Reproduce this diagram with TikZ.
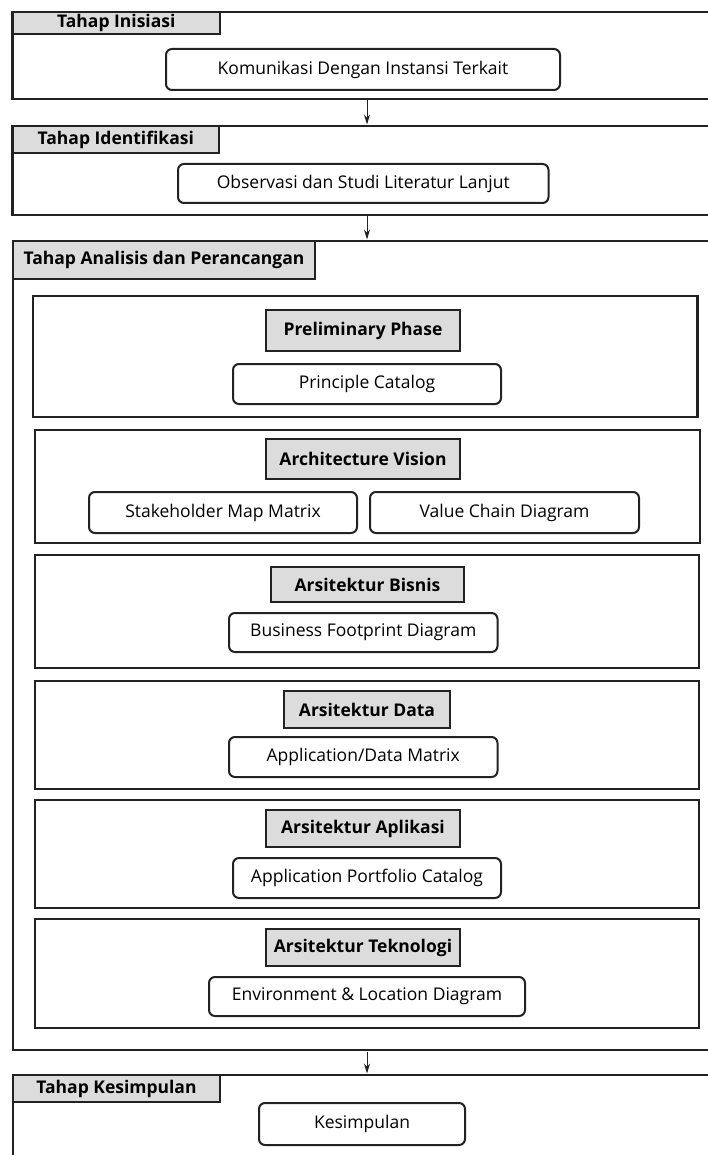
\documentclass[tikz,border=0pt]{standalone}
\usepackage{fontspec}
\setmainfont{Open Sans}
\usepackage{xcolor}
\usetikzlibrary{arrows.meta,fit,positioning}
\definecolor{ink}{HTML}{222222}
\definecolor{tabgray}{HTML}{DCDCDC}

\begin{document}
\begin{tikzpicture}[x=1pt,y=-1pt,>={Stealth[length=10pt,width=6pt]},
  stage/.style={draw=ink,line width=2.5pt,inner sep=0pt,outer sep=0pt},
  phase/.style={draw=ink,line width=2.3pt,inner sep=0pt,outer sep=0pt},
  tab/.style={draw=ink,fill=tabgray,line width=2.2pt,inner sep=0pt,
    font=\fontsize{17.5}{20}\selectfont\bfseries},
  head/.style={draw=ink,fill=tabgray,line width=2.3pt,inner sep=0pt,
    font=\fontsize{17.5}{20}\selectfont\bfseries},
  item/.style={draw=ink,rounded corners=6pt,line width=2pt,inner sep=0pt,
    font=\fontsize{17.5}{20}\selectfont},
  flow/.style={->,draw=ink,line width=1pt,shorten <=1.5pt,shorten >=1.5pt}]
\useasboundingbox (0,0) rectangle (708,1155);
\clip (0,0) rectangle (708,1155);

% tahap inisiasi
\node[stage,fit={(12.6,12) (721.4,99)}] (inisiasi) {};
\node[tab,minimum width=207.4pt,minimum height=22pt] at (116.3,23) (tabinisiasi) {Tahap Inisiasi};
\node[item,minimum width=394pt,minimum height=41pt] at (363,69.5) (komunikasi)
  {Komunikasi Dengan Instansi Terkait};

% tahap identifikasi
\node[stage,fit={(12.6,126) (721.4,215)}] (identifikasi) {};
\node[tab,minimum width=206.4pt,minimum height=27pt] at (115.8,139.5) (tabidentifikasi) {Tahap Identifikasi};
\node[item,minimum width=370.5pt,minimum height=39pt] at (363.25,183.5) (observasi)
  {Observasi dan Studi Literatur Lanjut};

% tahap analisis dan perancangan
\node[stage,fit={(13,241) (721,1050)}] (analisis) {};
\node[tab,minimum width=302pt,minimum height=38pt] at (164,260) (tabanalisis) {Tahap Analisis dan Perancangan};

\node[phase,fit={(33,296) (697.5,417)}] (preliminary) {};
\node[head,minimum width=194pt,minimum height=41pt] at (363,330.5) (hpreliminary) {Preliminary Phase};
\node[item,minimum width=268pt,minimum height=40pt] at (367,384) (principle) {Principle Catalog};

\node[phase,fit={(35,430) (700,543)}] (vision) {};
\node[head,minimum width=194pt,minimum height=40pt] at (363,459) (hvision) {Architecture Vision};
\node[item,minimum width=268pt,minimum height=41pt] at (223,512.5) (stakeholder) {Stakeholder Map Matrix};
\node[item,minimum width=269pt,minimum height=41pt] at (504.5,512.5) (valuechain) {Value Chain Diagram};

\node[phase,fit={(35,555) (699,668)}] (bisnis) {};
\node[head,minimum width=193pt,minimum height=35pt] at (367.5,584.5) (hbisnis) {Arsitektur Bisnis};
\node[item,minimum width=268.5pt,minimum height=39pt] at (363.25,632.5) (footprint) {Business Footprint Diagram};

\node[phase,fit={(35,681) (699,789)}] (data) {};
\node[head,minimum width=166pt,minimum height=37pt] at (367,709.5) (hdata) {Arsitektur Data};
\node[item,minimum width=268.5pt,minimum height=40pt] at (363.25,757) (appdata) {Application/Data Matrix};

\node[phase,fit={(35,800) (699,908)}] (aplikasi) {};
\node[head,minimum width=194pt,minimum height=37pt] at (363,828.5) (haplikasi) {Arsitektur Aplikasi};
\node[item,minimum width=268pt,minimum height=40pt] at (367,878) (portfolio) {Application Portfolio Catalog};

\node[phase,fit={(35,919) (699,1028)}] (teknologi) {};
\node[head,minimum width=194pt,minimum height=37pt] at (363,947.5) (hteknologi) {Arsitektur Teknologi};
\node[item,minimum width=316pt,minimum height=39pt] at (367,996.5) (environment) {Environment \& Location Diagram};

% tahap kesimpulan
\node[stage,fit={(13,1075) (721,1180)}] (kesimpulan) {};
\node[tab,minimum width=207pt,minimum height=27pt] at (116.5,1088.5) (tabkesimpulan) {Tahap Kesimpulan};
\node[item,minimum width=206pt,minimum height=42pt] at (362,1124) (hasil) {Kesimpulan};

% alur antar tahap
\draw[flow] (inisiasi.south) -- (identifikasi.north);
\draw[flow] (identifikasi.south) -- (analisis.north);
\draw[flow] (analisis.south) -- (kesimpulan.north);
\end{tikzpicture}
\end{document}
